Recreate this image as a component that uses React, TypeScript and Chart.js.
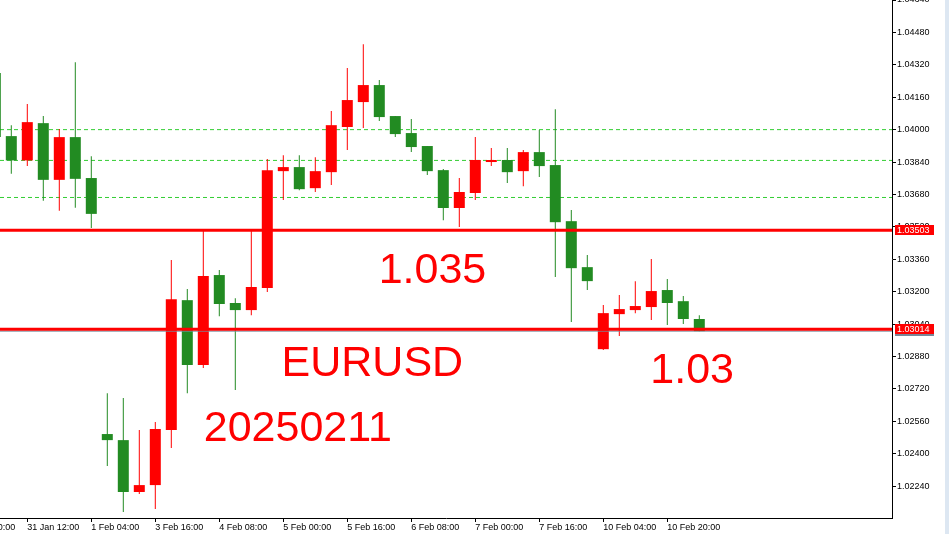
import React, { useEffect, useRef } from "react";
import { Chart, registerables } from "chart.js";

Chart.register(...registerables);

// H4 candles, index -1 .. 43 (index -1 is partly cut at the left edge)
const firstIndex = -1;
const opens = [
  1.04279, 1.03968, 1.03848, 1.04032, 1.03752, 1.03963, 1.03761, 1.02497, 1.02467, 1.02211,
  1.02245, 1.02517, 1.03158, 1.02838, 1.03282, 1.03144, 1.03109, 1.03218, 1.03795, 1.03815,
  1.03711, 1.0379, 1.04013, 1.04136, 1.0422, 1.04067, 1.03983, 1.03919, 1.038, 1.03613,
  1.03687, 1.0384, 1.0385, 1.03795, 1.03889, 1.03825, 1.03548, 1.03321, 1.02916, 1.03089,
  1.03109, 1.03124, 1.03208, 1.03153, 1.03065,
];
const highs = [
  1.04284, 1.04022, 1.04126, 1.04067, 1.04003, 1.04333, 1.03869, 1.02699, 1.02675, 1.02517,
  1.02556, 1.03356, 1.03213, 1.03504, 1.03307, 1.03168, 1.03504, 1.03855, 1.03874, 1.03874,
  1.03864, 1.04092, 1.04304, 1.04422, 1.04245, 1.04067, 1.04052, 1.03919, 1.03805, 1.03761,
  1.03963, 1.03909, 1.03909, 1.03899, 1.03998, 1.04101, 1.03603, 1.03381, 1.03134, 1.03183,
  1.03252, 1.03361, 1.03262, 1.03178, 1.03084,
];
const lows = [
  1.03958, 1.03782, 1.03821, 1.03649, 1.03599, 1.03614, 1.03514, 1.02339, 1.02112, 1.02201,
  1.02127, 1.02428, 1.02699, 1.02823, 1.03079, 1.02714, 1.03084, 1.03198, 1.03652, 1.03701,
  1.03692, 1.03726, 1.03899, 1.04008, 1.04042, 1.03963, 1.03889, 1.03776, 1.03553, 1.03519,
  1.03652, 1.0382, 1.03736, 1.03721, 1.03766, 1.03272, 1.0305, 1.03208, 1.02912, 1.02981,
  1.03094, 1.0306, 1.03035, 1.0304, 1.03005,
];
const closes = [
  1.03963, 1.03848, 1.04037, 1.03752, 1.03963, 1.03757, 1.03584, 1.02467, 1.02211, 1.02245,
  1.02522, 1.03163, 1.02838, 1.03277, 1.03139, 1.03109, 1.03223, 1.038, 1.03815, 1.03706,
  1.03795, 1.04022, 1.04146, 1.0422, 1.04062, 1.03978, 1.03914, 1.03795, 1.03613, 1.03692,
  1.0385, 1.0385, 1.0379, 1.03889, 1.0382, 1.03543, 1.03316, 1.03252, 1.03094, 1.03114,
  1.03129, 1.03203, 1.03144, 1.03065, 1.03005,
];

// time axis labels (every 4th candle)
const timeTickIndex = [1, 5, 9, 13, 17, 21, 25, 29, 33, 37, 41];
const timeTickLabels = [
  "31 Jan 12:00", "1 Feb 04:00", "3 Feb 16:00", "4 Feb 08:00", "5 Feb 00:00", "5 Feb 16:00",
  "6 Feb 08:00", "7 Feb 00:00", "7 Feb 16:00", "10 Feb 04:00", "10 Feb 20:00",
];
const hiddenTickIndex = -3;
const hiddenTickLabel = "30 Jan 20:00";

// price axis
const priceTicks = [
  1.0464, 1.0448, 1.0432, 1.0416, 1.04, 1.0384, 1.0368, 1.0352, 1.0336, 1.032, 1.0304,
  1.0288, 1.0272, 1.0256, 1.024, 1.0224,
];
const priceMin = 1.020825;
const priceMax = 1.0464;
const xMin = -0.70625;
const xMax = 55.04375;

// horizontal levels
const redLevels = [1.03503, 1.03014];
const dashedLevels = [1.04, 1.03848, 1.03665];
const bidPrice = 1.03005;

// text objects: [text, candle index, price]
const noteTexts = ["1.035", "EURUSD", "20250211", "1.03"];
const noteIndex = [22.96, 16.89, 12.03, 39.94];
const notePrice = [1.03243, 1.02784, 1.02463, 1.02747];

const RED = "#ff0000";
const GREEN = "#228b22";
const AXIS_FONT = "'Liberation Sans', Arial, sans-serif";

export default function App() {
  const ref = useRef<HTMLCanvasElement | null>(null);

  useEffect(() => {
    const canvas = ref.current;
    if (!canvas) return;

    const idx = opens.map((_, i) => i + firstIndex);
    const isUp = opens.map((o, i) => closes[i] > o);
    const colors = isUp.map((u) => (u ? RED : GREEN));

    const hLine = (v: number) => [
      { x: xMin, y: v },
      { x: xMax, y: v },
    ];

    const datasets: any[] = [];
    redLevels.forEach((v) =>
      datasets.push({
        type: "line",
        data: hLine(v),
        borderColor: RED,
        borderWidth: 3,
        pointRadius: 0,
        order: 0,
      })
    );
    datasets.push({
      type: "line",
      data: hLine(bidPrice),
      borderColor: "#778899",
      borderWidth: 1,
      pointRadius: 0,
      order: 1,
    });
    datasets.push({
      type: "bar",
      data: idx.map((k, i) => ({ x: k, y: [opens[i], closes[i]] })),
      backgroundColor: colors,
      borderWidth: 0,
      barThickness: 11,
      grouped: false,
      inflateAmount: 0,
      order: 2,
    });
    datasets.push({
      type: "bar",
      data: idx.map((k, i) => ({ x: k, y: [lows[i], highs[i]] })),
      backgroundColor: colors,
      borderWidth: 0,
      barThickness: 1,
      grouped: false,
      inflateAmount: 0,
      order: 3,
    });
    dashedLevels.forEach((v) =>
      datasets.push({
        type: "line",
        data: hLine(v),
        borderColor: "#32cd32",
        borderWidth: 1,
        borderDash: [4, 3],
        pointRadius: 0,
        order: 4,
      })
    );

    const overlay = {
      id: "mtOverlay",
      afterDatasetsDraw(chart: any) {
        const ctx = chart.ctx;
        const xs = chart.scales.x;
        const ys = chart.scales.y;
        ctx.save();
        ctx.fillStyle = RED;
        ctx.font = `43px ${AXIS_FONT}`;
        ctx.textAlign = "left";
        ctx.textBaseline = "alphabetic";
        noteTexts.forEach((t, i) => {
          ctx.fillText(t, xs.getPixelForValue(noteIndex[i]), ys.getPixelForValue(notePrice[i]));
        });
        ctx.restore();
      },
      afterDraw(chart: any) {
        const ctx = chart.ctx;
        const xs = chart.scales.x;
        const ys = chart.scales.y;
        const area = chart.chartArea;
        ctx.save();
        // partially hidden first time label
        ctx.fillStyle = "#000";
        ctx.font = `9px ${AXIS_FONT}`;
        ctx.textAlign = "left";
        ctx.textBaseline = "middle";
        ctx.fillText(hiddenTickLabel, xs.getPixelForValue(hiddenTickIndex), xs.top + 4 + 5.4);
        // price label boxes
        const boxX = area.right + 3;
        const boxW = 39;
        const drawBox = (v: number, bg: string) => {
          const y = Math.round(ys.getPixelForValue(v));
          ctx.fillStyle = bg;
          ctx.fillRect(boxX, y - 5, boxW, 10);
          ctx.fillStyle = "#fff";
          ctx.fillText(v.toFixed(5), boxX + 2, y + 0.5);
        };
        drawBox(bidPrice, "#778899");
        redLevels.forEach((v) => drawBox(v, RED));
        // window border at the right
        ctx.fillStyle = "#dde7f2";
        ctx.fillRect(945, 0, 4, chart.height);
        ctx.restore();
      },
    };

    const chart = new Chart(canvas, {
      type: "bar",
      data: { datasets },
      plugins: [overlay],
      options: {
        animation: false,
        responsive: false,
        events: [],
        layout: { padding: 0 },
        plugins: { legend: { display: false }, tooltip: { enabled: false } },
        scales: {
          x: {
            type: "linear",
            position: "bottom",
            min: xMin,
            max: xMax,
            offset: false,
            grid: {
              offset: false,
              drawOnChartArea: false,
              drawTicks: true,
              tickLength: 4,
              color: "#000",
            },
            border: { color: "#000", width: 1 },
            ticks: {
              align: "start",
              padding: 0,
              autoSkip: false,
              maxRotation: 0,
              color: "#000",
              font: { family: AXIS_FONT, size: 9 },
              callback: (value: any) => {
                const j = timeTickIndex.indexOf(Number(value));
                return j >= 0 ? timeTickLabels[j] : "";
              },
            },
            afterBuildTicks: (scale: any) => {
              scale.ticks = timeTickIndex.map((v) => ({ value: v }));
            },
            afterFit: (scale: any) => {
              scale.height = 16;
              scale.paddingLeft = 0;
              scale.paddingRight = 0;
            },
          } as any,
          y: {
            type: "linear",
            position: "right",
            min: priceMin,
            max: priceMax,
            grid: {
              drawOnChartArea: false,
              drawTicks: true,
              tickLength: 4,
              color: "#000",
            },
            border: { color: "#000", width: 1 },
            ticks: {
              padding: 1,
              crossAlign: "near",
              autoSkip: false,
              color: "#000",
              font: { family: AXIS_FONT, size: 9 },
              callback: (value: any) => Number(value).toFixed(5),
            },
            afterBuildTicks: (scale: any) => {
              scale.ticks = priceTicks.map((v) => ({ value: v }));
            },
            afterFit: (scale: any) => {
              scale.width = 57;
              scale.paddingTop = 0;
              scale.paddingBottom = 0;
            },
          } as any,
        },
      } as any,
    });

    return () => chart.destroy();
  }, []);

  return (
    <div style={{ position: "fixed", left: 0, top: 0, width: 949, height: 534, background: "#fff" }}>
      <canvas ref={ref} width={949} height={534} style={{ width: 949, height: 534, display: "block" }} />
    </div>
  );
}
